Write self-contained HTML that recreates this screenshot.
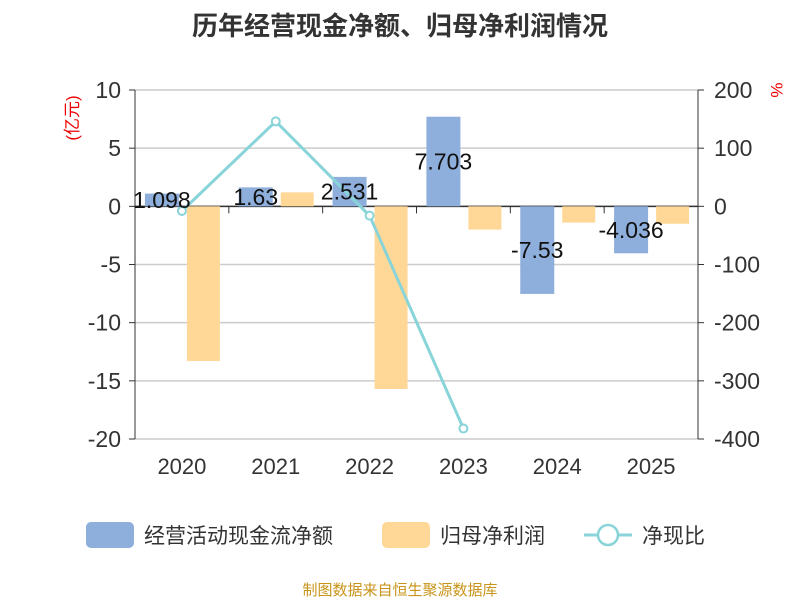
<!DOCTYPE html>
<html><head><meta charset="utf-8"><style>
body{margin:0;background:#fff;}
svg text{font-family:"Liberation Sans","Noto Sans CJK SC",sans-serif;}
</style></head><body>
<svg width="800" height="600" id="c">
<text x="400" y="35" text-anchor="middle" font-size="26" font-weight="bold" fill="#333">历年经营现金净额、归母净利润情况</text>
<text transform="translate(78,118) rotate(-90)" text-anchor="middle" font-size="17" fill="#e00">(亿元)</text>
<text transform="translate(771,90) rotate(90)" text-anchor="middle" font-size="17" fill="#e00">%</text>
<g id="grid"></g><g id="bars"></g><g id="line"></g><g id="labels"></g>
<g>
<rect x="86" y="522" width="48" height="26" rx="5" fill="#8eaedb"/>
<text x="144" y="543" font-size="21" fill="#333">经营活动现金流净额</text>
<rect x="382" y="522" width="48" height="26" rx="5" fill="#ffd898"/>
<text x="440" y="543" font-size="21" fill="#333">归母净利润</text>
<line x1="584" y1="535" x2="632" y2="535" stroke="#88d4d8" stroke-width="3"/>
<circle cx="608" cy="535" r="10" fill="#fff" stroke="#88d4d8" stroke-width="2.5"/>
<text x="642" y="543" font-size="21" fill="#333">净现比</text>
</g>
<text x="400" y="595" text-anchor="middle" font-size="15" fill="#c8941a">制图数据来自恒生聚源数据库</text>
</svg>
<script>
const categories=["2020","2021","2022","2023","2024","2025"];
const cashFlow=[1.098,1.63,2.531,7.703,-7.53,-4.036];
const netProfit=[-13.3,1.2,-15.7,-2.0,-1.4,-1.5];
const ratio=[-8,146,-16,-382];
const leftTicks=[10,5,0,-5,-10,-15,-20];
const rightTicks=[200,100,0,-100,-200,-300,-400];
const NS="http://www.w3.org/2000/svg";
const X0=135,X1=698,Y0=90,Y1=439,bw=(X1-X0)/categories.length;
const yL=v=>Y0+(10-v)/30*(Y1-Y0);
const yR=v=>Y0+(200-v)/600*(Y1-Y0);
const cx=i=>X0+bw*(i+0.5);
function mk(tag,at,parent,txt){const e=document.createElementNS(NS,tag);for(const k in at)e.setAttribute(k,at[k]);if(txt!==undefined)e.textContent=txt;document.getElementById(parent).appendChild(e);return e;}
leftTicks.forEach((t,i)=>{
 const y=yL(t);
 const g=mk('line',{x1:X0,x2:X1,y1:y,y2:y,stroke:'#ccc','stroke-width':1.5},'grid');
 
 
 const tl=mk('text',{x:X0-14,y:y+8,'text-anchor':'end','font-size':23,fill:'#333'},'grid',t);
 
 
 mk('line',{x1:X0-6,x2:X0,y1:y,y2:y,stroke:'#333'},'grid');
 const r=rightTicks[i],yr=yR(r);
 const rl=mk('text',{x:X1+16,y:yr+8,'font-size':23,fill:'#333'},'grid',r);
 
 
 mk('line',{x1:X1,x2:X1+6,y1:yr,y2:yr,stroke:'#333'},'grid');
});
mk('line',{x1:X0,x2:X0,y1:Y0,y2:Y1,stroke:'#333'},'grid');
mk('line',{x1:X1,x2:X1,y1:Y0,y2:Y1,stroke:'#333'},'grid');
const z=yL(0);
mk('line',{x1:X0,x2:X1,y1:z,y2:z,stroke:'#333','stroke-width':1.5},'grid');
categories.forEach((c,i)=>{
 mk('line',{x1:X0+bw*i,x2:X0+bw*i,y1:z,y2:z+7,stroke:'#333'},'grid');
 const t=mk('text',{x:cx(i),y:474,'text-anchor':'middle','font-size':22,fill:'#333'},'grid',c);
 
 
 const v=cashFlow[i],yv=yL(v);
 const b=mk('rect',{x:cx(i)-37,y:Math.min(yv,z),width:34,height:Math.abs(yv-z),fill:'#8eaedb'},'bars');
 
 
 const p=netProfit[i],yp=yL(p);
 const b2=mk('rect',{x:cx(i)+5,y:Math.min(yp,z),width:33,height:Math.abs(yp-z),fill:'#ffd898'},'bars');
 
 
 const l=mk('text',{x:cx(i)-20,y:(yv+z)/2+8,'text-anchor':'middle','font-size':23,fill:'#111'},'labels',String(v));
 
 
});
const pts=ratio.map((r,i)=>[cx(i),yR(r)]);
const pl=mk('polyline',{points:pts.map(p=>p.join(',')).join(' '),fill:'none',stroke:'#88d4d8','stroke-width':3},'line');


pts.forEach(p=>{
 const m=mk('circle',{cx:p[0],cy:p[1],r:4,fill:'#fff',stroke:'#88d4d8','stroke-width':2},'line');
 
 
});
</script>
</body></html>
